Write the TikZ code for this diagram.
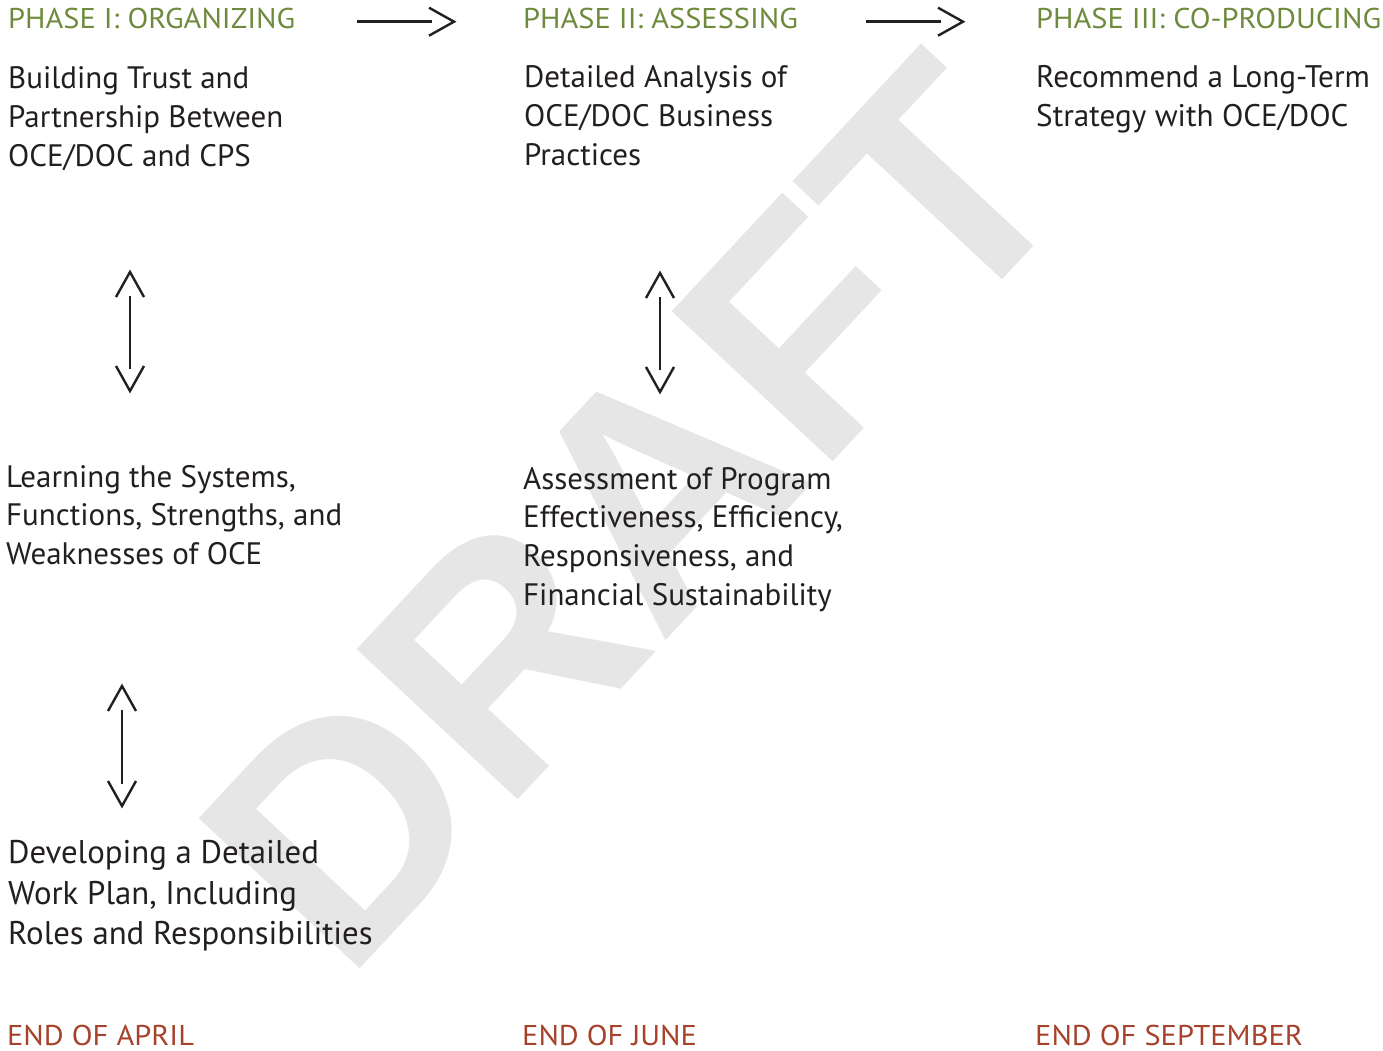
\documentclass[tikz,border=0pt]{standalone}
\usepackage{fontspec}
\setmainfont{PT Sans}
\newfontfamily\capsfont{PT Sans}[FakeStretch=1.063]
\newfontfamily\wmfont{Liberation Sans}
\definecolor{ink}{RGB}{35,31,32}
\definecolor{phasegreen}{RGB}{110,139,61}
\definecolor{duered}{RGB}{166,66,42}
\definecolor{wmgray}{RGB}{230,230,230}
\tikzset{
  body/.style={anchor=base west, inner sep=0pt, text=ink},
  phasehead/.style={anchor=base west, inner sep=0pt, text=phasegreen,
    font=\capsfont\fontsize{28.6}{30}\selectfont},
  duedate/.style={anchor=base west, inner sep=0pt, text=duered,
    font=\capsfont\fontsize{28.6}{30}\selectfont},
  conn/.style={draw=ink, line width=2.4pt},
  barb/.style={draw=ink, line width=2.4pt, line join=miter},
}
% stacked lines with a fixed font size and line pitch; baseline = first line
\newcommand\linestack[3]{\vtop{\fontsize{#1}{#2}\selectfont
  \def\\{\egroup\hbox\bgroup}\hbox\bgroup#3\egroup}}
\begin{document}
\begin{tikzpicture}[x=1pt, y=-1pt]
\useasboundingbox (0,0) rectangle (1383,1051);

% watermark
\node[inner sep=0pt, rotate=47, text=wmgray] (wm) at (635,513)
  {\wmfont\bfseries\fontsize{320}{320}\selectfont DRAFT};

% phase headings
\node[phasehead] (h1) at (8,28.5) {PHASE I: ORGANIZING};
\node[phasehead] (h2) at (523,28.5) {PHASE II: ASSESSING};
\node[phasehead] (h3) at (1036,28.5) {PHASE III: CO-PRODUCING};

% activity blocks
\node[body] (b1) at (8,88.5)
  {\linestack{31}{38.8}{Building Trust and\\Partnership Between\\OCE/DOC and CPS}};
\node[body] (b2) at (524,87.5)
  {\linestack{31}{38.8}{Detailed Analysis of\\OCE/DOC Business\\Practices}};
\node[body] (b3) at (1036,88)
  {\linestack{31.2}{38.8}{Recommend a Long-Term\\Strategy with OCE/DOC}};
\node[body] (b4) at (6,487)
  {\linestack{31}{38.8}{Learning the Systems,\\Functions, Strengths, and\\Weaknesses of OCE}};
\node[body] (b5) at (523,489)
  {\linestack{31}{38.8}{Assessment of Program\\Effectiveness, Efficiency,\\Responsiveness, and\\Financial Sustainability}};
\node[body] (b6) at (8,863.5)
  {\linestack{32.8}{40.7}{Developing a Detailed\\Work Plan, Including\\Roles and Responsibilities}};

% deadlines
\node[duedate] (d1) at (7,1045) {END OF APRIL};
\node[duedate] (d2) at (522,1045) {END OF JUNE};
\node[duedate] (d3) at (1035,1045) {END OF SEPTEMBER};

% arrow end points
\coordinate (a1s) at (357,21.7);  \coordinate (a1e) at (454,21.7);
\coordinate (a2s) at (866,21.7);  \coordinate (a2e) at (963,21.7);
\coordinate (v1t) at (130,272);   \coordinate (v1b) at (130,391);
\coordinate (v2t) at (660,273);   \coordinate (v2b) at (660,392);
\coordinate (v3t) at (122,686);   \coordinate (v3b) at (122,806);

% phase-to-phase arrows
\draw[conn] (a1s) -- ([xshift=-22pt]a1e);
\draw[barb] ([shift={(-25,-14)}]a1e) -- (a1e) -- ([shift={(-25,14)}]a1e);
\draw[conn] (a2s) -- ([xshift=-22pt]a2e);
\draw[barb] ([shift={(-25,-14)}]a2e) -- (a2e) -- ([shift={(-25,14)}]a2e);

% two-way vertical arrows
\foreach \t/\b in {v1t/v1b, v2t/v2b, v3t/v3b}{
  \draw[conn] ([shift={(0,24)}]\t) -- ([shift={(0,-22)}]\b);
  \draw[barb] ([shift={(-14,25)}]\t) -- (\t) -- ([shift={(14,25)}]\t);
  \draw[barb] ([shift={(-14,-25)}]\b) -- (\b) -- ([shift={(14,-25)}]\b);
}
\end{tikzpicture}
\end{document}
